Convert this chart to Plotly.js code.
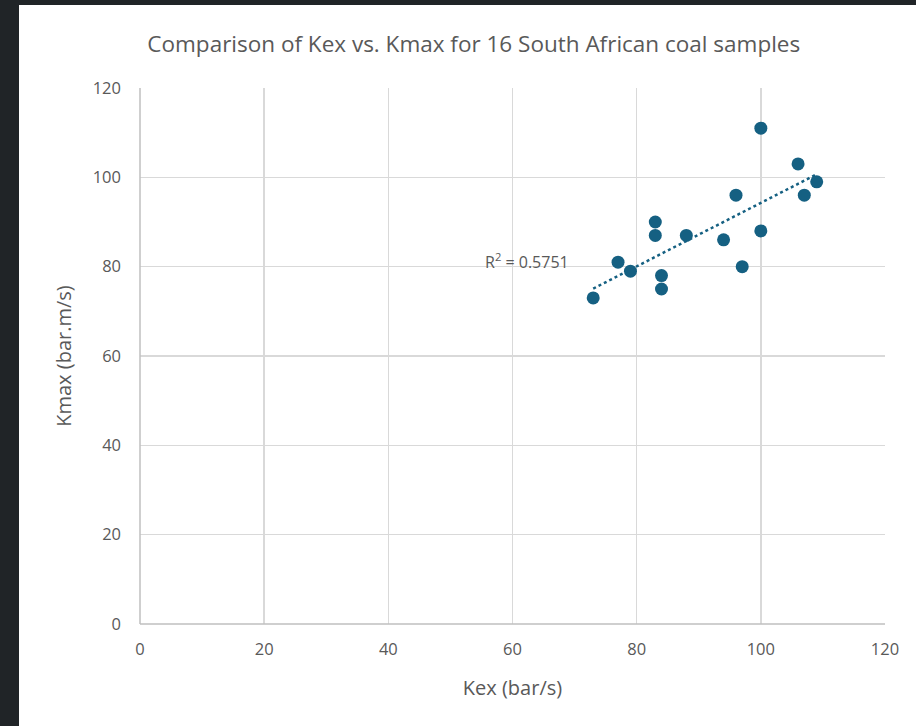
<!DOCTYPE html>
<html>
<head>
<meta charset="utf-8">
<script src="https://cdn.plot.ly/plotly-3.0.1.min.js"></script>
<style>
  html, body { margin: 0; padding: 0; background: #202427; width: 916px; height: 726px; overflow: hidden; }
  #chart { position: absolute; left: 19px; top: 5px; width: 897px; height: 721px; background: #ffffff; }
</style>
</head>
<body>
<div id="chart"></div>
<script>
// Explosibility constants for 16 South African coal samples
const kex  = [100, 106, 109, 107, 96, 83, 83, 88, 94, 100, 97, 77, 79, 84, 84, 73];
const kmax = [111, 103, 99, 96, 96, 90, 87, 87, 86, 88, 80, 81, 79, 78, 75, 73];
const r2Label = 'R<sup>2</sup> = 0.5751';
const axisTicks = [0, 20, 40, 60, 80, 100, 120];

// Least-squares linear trendline through the samples
const n = kex.length;
const mx = kex.reduce((a, b) => a + b, 0) / n;
const my = kmax.reduce((a, b) => a + b, 0) / n;
let sxy = 0, sxx = 0;
for (let i = 0; i < n; i++) { sxy += (kex[i] - mx) * (kmax[i] - my); sxx += (kex[i] - mx) ** 2; }
const slope = sxy / sxx;
const intercept = my - slope * mx;
const xMin = Math.min(...kex), xMax = Math.max(...kex);
const trendX = [xMin, xMax];
const trendY = trendX.map(x => intercept + slope * x);

const blue = '#156082';
const grey = '#595959';
const font = '"Open Sans", Lato, sans-serif';

const traces = [
  {
    x: trendX, y: trendY, type: 'scatter', mode: 'lines',
    line: { color: blue, width: 2.5, dash: 'dot' },
    hoverinfo: 'skip', showlegend: false
  },
  {
    x: kex, y: kmax, type: 'scatter', mode: 'markers',
    marker: { color: blue, size: 13 },
    showlegend: false
  }
];

const axisCommon = {
  range: [0, 120],
  tickvals: axisTicks,
  ticktext: axisTicks.map(String),
  showgrid: true, gridcolor: '#d9d9d9', gridwidth: 1.5,
  zeroline: false,
  showline: false,
  ticks: '',
  tickfont: { family: font, size: 16.5, color: grey },
  fixedrange: true
};

const layout = {
  width: 897, height: 721,
  paper_bgcolor: '#ffffff', plot_bgcolor: '#ffffff',
  margin: { l: 121, r: 31, t: 83, b: 102 },
  title: {
    text: 'Comparison of Kex vs. Kmax for 16 South African coal samples',
    font: { family: font, size: 22.5, color: grey },
    x: 0.507, xanchor: 'center', y: 1 - 39 / 721, yanchor: 'middle'
  },
  xaxis: Object.assign({}, axisCommon, {
    ticklabelstandoff: 13,
    title: { text: 'Kex (bar/s)', font: { family: font, size: 20, color: grey }, standoff: 22 }
  }),
  yaxis: Object.assign({}, axisCommon, {
    ticklabelstandoff: 18,
    title: { text: 'Kmax (bar.m/s)', font: { family: font, size: 20, color: grey }, standoff: 15 }
  }),
  shapes: [
    { type: 'line', xref: 'paper', yref: 'paper', x0: 0, x1: 1, y0: 0, y1: 0, line: { color: '#bfbfbf', width: 1.5 } },
    { type: 'line', xref: 'paper', yref: 'paper', x0: 0, x1: 0, y0: 0, y1: 1, line: { color: '#bfbfbf', width: 1.5 } }
  ],
  annotations: [
    {
      x: 62.4, y: 81.3, xref: 'x', yref: 'y',
      text: r2Label, showarrow: false,
      font: { family: font, size: 16, color: grey },
      xanchor: 'center', yanchor: 'middle'
    }
  ]
};

Plotly.newPlot('chart', traces, layout, { displayModeBar: false, staticPlot: true });
</script>
</body>
</html>
